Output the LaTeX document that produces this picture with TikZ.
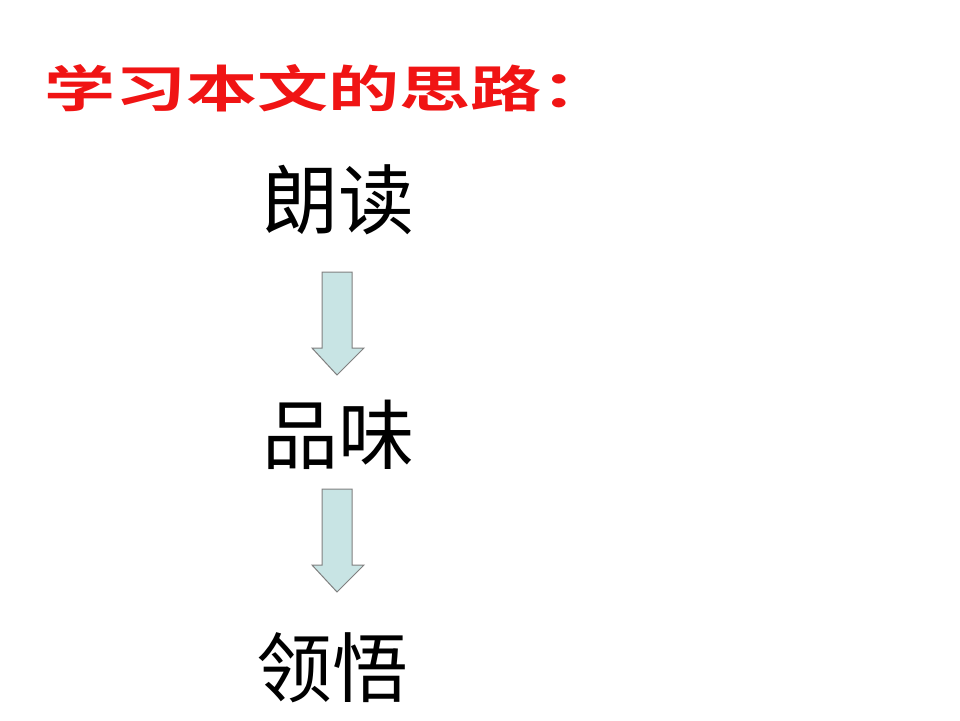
\documentclass[tikz,border=0pt]{standalone}
\usepackage{fontspec}
\newfontfamily\cjk{Noto Sans CJK SC}
\newfontfamily\cjkb{Noto Sans CJK SC Bold}
\definecolor{arrowfill}{RGB}{200,228,228}
\definecolor{titlered}{RGB}{240,20,20}
\begin{document}
\begin{tikzpicture}[x=1pt,y=-1pt,
  word/.style={font=\cjk\fontsize{76}{80}\selectfont, inner sep=0pt},
  downarrow/.style={fill=arrowfill, draw=gray, line width=1pt}]
\useasboundingbox[fill=white] (0,0) rectangle (960,720);
\node[font=\cjkb\fontsize{50}{54}\selectfont, text=titlered, xscale=1.42, inner sep=0pt] (title) at (328,88) {学习本文的思路：};
\node[word] (w1) at (338,200) {朗读};
\node[word] (w2) at (338,435) {品味};
\node[word] (w3) at (332,668) {领悟};
\draw[downarrow] (322,272) -- (352,272) -- (352,348) -- (364,348) -- (337,375) -- (312,348) -- (322,348) -- cycle;
\draw[downarrow] (322,489) -- (352,489) -- (352,565) -- (364,565) -- (337,592) -- (312,565) -- (322,565) -- cycle;
\end{tikzpicture}
\end{document}
